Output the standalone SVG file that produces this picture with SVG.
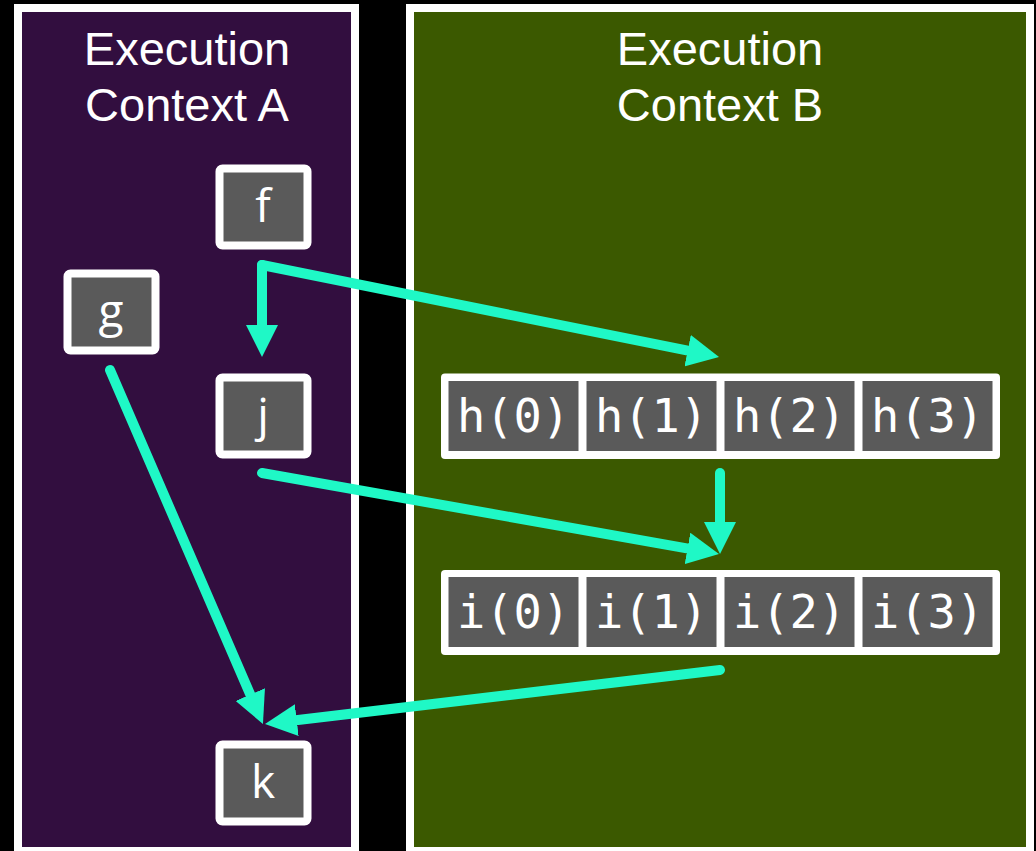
<svg xmlns="http://www.w3.org/2000/svg" width="1036" height="851" viewBox="0 0 1036 851">
<style>
.panel{stroke:#ffffff;stroke-width:8}
.title{font-family:"Liberation Sans",Arial,sans-serif;font-size:47px;fill:#ffffff;text-anchor:middle}
.box{fill:#5a5a5a;stroke:#ffffff;stroke-width:8}
.frame{fill:#ffffff}
.cell{fill:#5a5a5a}
.lbl{font-family:"Open Sans",sans-serif;font-size:46px;fill:#ffffff;text-anchor:middle}
.mono{font-family:"DejaVu Sans Mono",monospace;font-size:47px;fill:#ffffff;text-anchor:middle}
.arrow{fill:none;stroke:#1ff8c6;stroke-width:10;stroke-linecap:round;marker-end:url(#ah)}
</style>
<defs>
<marker id="ah" markerUnits="userSpaceOnUse" markerWidth="32" markerHeight="32" refX="18" refY="16" orient="auto">
<path d="M0,0 L32,16 L0,32 z" fill="#1ff8c6"/>
</marker>
</defs>
<rect width="1036" height="851" fill="#000000"/>
<g id="contextA">
<rect class="panel" x="18" y="8" width="337" height="843" fill="#320e3f"/>
<text class="title" x="187" y="65">Execution</text>
<text class="title" x="187" y="121">Context A</text>
</g>
<g id="contextB">
<rect class="panel" x="410" y="8" width="620" height="843" fill="#3b5900"/>
<text class="title" x="720" y="65">Execution</text>
<text class="title" x="720" y="121">Context B</text>
</g>
<g id="node-f">
<rect class="box" x="219.5" y="168.5" width="88" height="77" rx="3"/>
<text class="lbl" x="263" y="222">f</text>
</g>
<g id="node-g">
<rect class="box" x="67.5" y="273.5" width="88" height="77" rx="3"/>
<text class="lbl" x="111" y="327">g</text>
</g>
<g id="node-j">
<rect class="box" x="219.5" y="377.5" width="88" height="77" rx="3"/>
<text class="lbl" x="263" y="431">j</text>
</g>
<g id="node-k">
<rect class="box" x="219.5" y="744.5" width="88" height="77" rx="3"/>
<text class="lbl" x="263" y="798">k</text>
</g>
<g id="node-h">
<rect class="frame" x="441" y="373.5" width="559" height="85.5" rx="4"/>
<rect class="cell" x="448.5" y="381" width="130" height="70"/>
<rect class="cell" x="586.5" y="381" width="130" height="70"/>
<rect class="cell" x="724.5" y="381" width="130" height="70"/>
<rect class="cell" x="862.5" y="381" width="130" height="70"/>
<text class="mono" x="513.5" y="432">h(0)</text>
<text class="mono" x="651.5" y="432">h(1)</text>
<text class="mono" x="789.5" y="432">h(2)</text>
<text class="mono" x="927.5" y="432">h(3)</text>
</g>
<g id="node-i">
<rect class="frame" x="441" y="570" width="559" height="85" rx="4"/>
<rect class="cell" x="448.5" y="577" width="130" height="70"/>
<rect class="cell" x="586.5" y="577" width="130" height="70"/>
<rect class="cell" x="724.5" y="577" width="130" height="70"/>
<rect class="cell" x="862.5" y="577" width="130" height="70"/>
<text class="mono" x="513.5" y="628">i(0)</text>
<text class="mono" x="651.5" y="628">i(1)</text>
<text class="mono" x="789.5" y="628">i(2)</text>
<text class="mono" x="927.5" y="628">i(3)</text>
</g>
<g id="connectors">
<path class="arrow" d="M262,265 L262,343"/>
<path class="arrow" d="M262,265 L705.3,354.2"/>
<path class="arrow" d="M110,370 L257.4,711.1"/>
<path class="arrow" d="M262,473 L705.2,551.6"/>
<path class="arrow" d="M720,473 L720,540"/>
<path class="arrow" d="M720,670 L278.9,722.3"/>
</g>
</svg>
